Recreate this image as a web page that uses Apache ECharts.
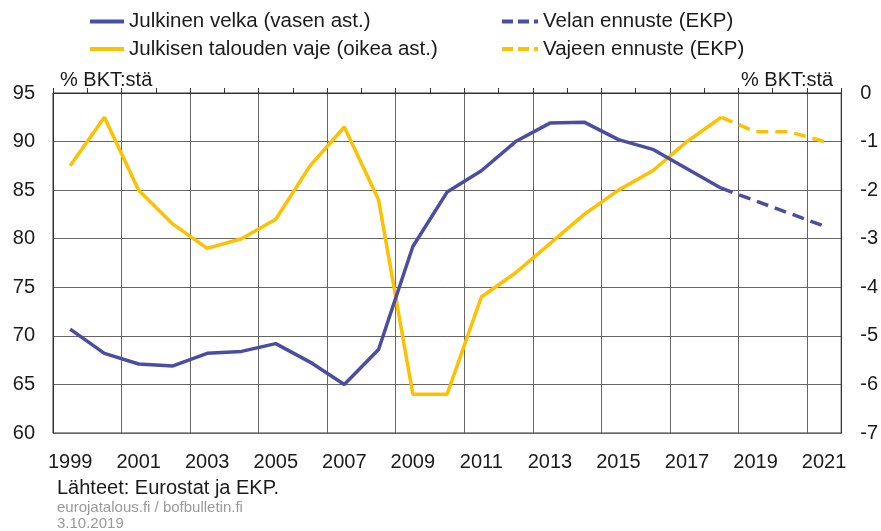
<!DOCTYPE html>
<html>
<head>
<meta charset="utf-8">
<script src="https://cdn.jsdelivr.net/npm/echarts@6/dist/echarts.min.js"></script>
<style>
html,body{margin:0;padding:0;background:#fff;}
#c{width:881px;height:531px;}
</style>
</head>
<body>
<div id="c"></div>
<script>
var years = ['1999','2000','2001','2002','2003','2004','2005','2006','2007','2008','2009','2010','2011','2012','2013','2014','2015','2016','2017','2018','2019','2020','2021'];
var debt = [70.7,68.2,67.1,66.9,68.2,68.4,69.2,67.3,65.0,68.6,79.2,84.8,87.0,90.0,91.9,92.0,90.2,89.2,87.2,85.2,null,null,null];
var debtForecast = [null,null,null,null,null,null,null,null,null,null,null,null,null,null,null,null,null,null,null,85.2,83.9,82.6,81.3];
var deficit = [-1.5,-0.5,-2.0,-2.7,-3.2,-3.0,-2.6,-1.5,-0.7,-2.2,-6.2,-6.2,-4.2,-3.7,-3.1,-2.5,-2.0,-1.6,-1.0,-0.5,null,null,null];
var deficitForecast = [null,null,null,null,null,null,null,null,null,null,null,null,null,null,null,null,null,null,null,-0.5,-0.8,-0.8,-1.0];
var leftTicks = {min:60, max:95, interval:5};
var rightTicks = {min:-7, max:0, interval:1};

var FONT = '"Liberation Sans", Arial, sans-serif';
var BLUE = '#4B4EA0';
var GOLD = '#FFC000';
var SOLID_ICON = 'path://M0,0h36v4h-36z';
var DASH_ICON = 'path://M0,0h11v4h-11z M16,0h11v4h-11z M32,0h4v4h-4z';
var chart = echarts.init(document.getElementById('c'), null, {renderer:'canvas'});
var txt = {fontFamily: FONT, fontSize: 20, color: '#1a1a1a'};
var legendText = {fontFamily: FONT, fontSize: 20.5, color: '#1a1a1a'};
chart.setOption({
  animation: false,
  backgroundColor: '#fff',
  grid: {left: 53, right: 35, top: 93, bottom: 98, show: true, borderColor: '#333', borderWidth: 1, backgroundColor: 'transparent'},
  legend: [
    {data: [{name: 'Julkinen velka (vasen ast.)', icon: SOLID_ICON}, {name: 'Julkisen talouden vaje (oikea ast.)', icon: SOLID_ICON}],
     orient: 'vertical', left: 85, top: 6,
     itemWidth: 34, itemHeight: 4, itemGap: 6.5, textStyle: legendText},
    {data: [{name: 'Velan ennuste (EKP)', icon: DASH_ICON}, {name: 'Vajeen ennuste (EKP)', icon: DASH_ICON}],
     orient: 'vertical', left: 497, top: 6,
     itemWidth: 36, itemHeight: 4, itemGap: 6.5, textStyle: legendText}
  ],
  xAxis: {
    type: 'category', data: years, boundaryGap: true,
    axisLine: {show: true, lineStyle: {color: '#333', width: 1}},
    axisTick: {show: true, inside: true, interval: 0, length: 5, lineStyle: {color: '#333'}},
    axisLabel: Object.assign({interval: 1, margin: 19}, txt),
    splitLine: {show: true, interval: 1, lineStyle: {color: '#666', width: 1}}
  },
  yAxis: [
    {type: 'value', min: leftTicks.min, max: leftTicks.max, interval: leftTicks.interval, position: 'left',
     name: '% BKT:stä', nameLocation: 'end', nameGap: 3,
     nameTextStyle: {fontFamily: FONT, fontSize: 20, color: '#1a1a1a', align: 'left', padding: [0,0,0,7]},
     axisLine: {show: true, lineStyle: {color: '#333'}}, axisTick: {show: false},
     axisLabel: Object.assign({margin: 18}, txt),
     splitLine: {show: true, lineStyle: {color: '#666', width: 1}}},
    {type: 'value', min: rightTicks.min, max: rightTicks.max, interval: rightTicks.interval, position: 'right',
     name: '% BKT:stä', nameLocation: 'end', nameGap: 3,
     nameTextStyle: {fontFamily: FONT, fontSize: 20, color: '#1a1a1a', align: 'right', padding: [0,8,0,0]},
     axisLine: {show: true, lineStyle: {color: '#333'}}, axisTick: {show: false},
     axisLabel: Object.assign({margin: 19}, txt),
     splitLine: {show: false}}
  ],
  series: [
    {name: 'Julkinen velka (vasen ast.)', type: 'line', yAxisIndex: 0, data: debt, symbol: 'none',
     lineStyle: {color: BLUE, width: 3.5}, itemStyle: {color: BLUE}, z: 3},
    {name: 'Julkisen talouden vaje (oikea ast.)', type: 'line', yAxisIndex: 1, data: deficit, symbol: 'none',
     lineStyle: {color: GOLD, width: 3.5}, itemStyle: {color: GOLD}, z: 2},
    {name: 'Velan ennuste (EKP)', type: 'line', yAxisIndex: 0, data: debtForecast, symbol: 'none',
     lineStyle: {color: BLUE, width: 3.5, type: [12, 7]}, itemStyle: {color: BLUE}, z: 3},
    {name: 'Vajeen ennuste (EKP)', type: 'line', yAxisIndex: 1, data: deficitForecast, symbol: 'none',
     lineStyle: {color: GOLD, width: 3.5, type: [12, 7]}, itemStyle: {color: GOLD}, z: 2}
  ],
  graphic: [
    {type: 'text', left: 57, top: 478, style: {text: 'Lähteet: Eurostat ja EKP.', font: '20px ' + FONT, fill: '#1a1a1a'}},
    {type: 'text', left: 57, top: 500, style: {text: 'eurojatalous.fi / bofbulletin.fi', font: '15px ' + FONT, fill: '#999'}},
    {type: 'text', left: 57, top: 516, style: {text: '3.10.2019', font: '15px ' + FONT, fill: '#999'}}
  ]
});
</script>
</body>
</html>
